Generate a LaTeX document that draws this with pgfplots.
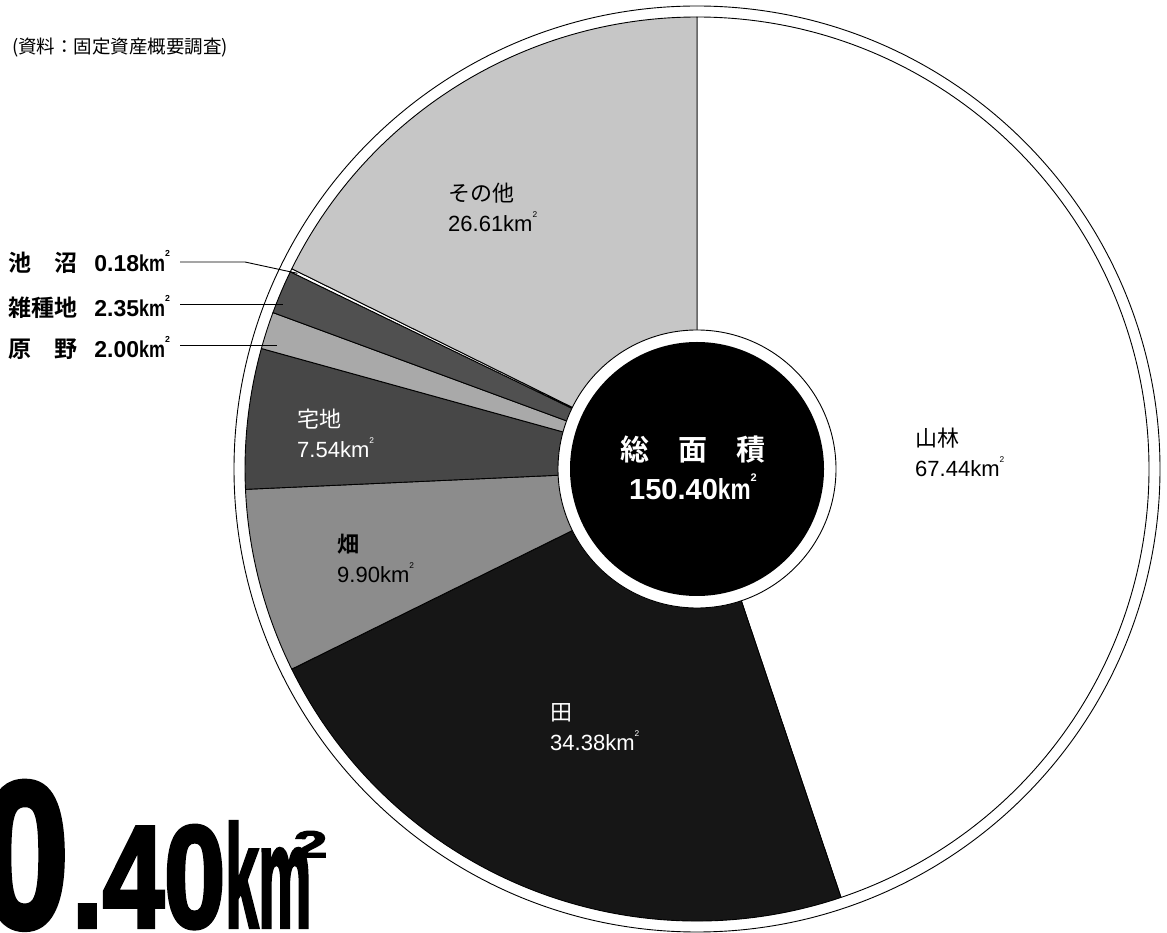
\documentclass[border=0pt]{standalone}
\usepackage{fontspec}
\setmainfont{Liberation Sans}
\newfontfamily\cjk{Noto Sans CJK JP}[BoldFont={Noto Sans CJK JP Bold}]
\newfontfamily\heavy{Liberation Sans Bold}[FakeBold=3]
\usepackage{pgfplots}
\usepackage{pgfplotstable}
\pgfplotsset{compat=1.18}

\definecolor{cSanrin}{gray}{1.0}
\definecolor{cTa}{HTML}{161616}
\definecolor{cHata}{HTML}{8C8C8C}
\definecolor{cTakuchi}{HTML}{474747}
\definecolor{cGenya}{HTML}{A9A9A9}
\definecolor{cZasshu}{HTML}{505050}
\definecolor{cChisho}{gray}{1.0}
\definecolor{cSonota}{HTML}{C6C6C6}

% land use (km^2), clockwise from 12 o'clock
\pgfplotstableread{
key     value fillc
sanrin  67.44 cSanrin
ta      34.38 cTa
hata     9.90 cHata
takuchi  7.54 cTakuchi
genya    2.00 cGenya
zasshu   2.35 cZasshu
chisho   0.18 cChisho
sonota  26.61 cSonota
}\landdata

\newcommand\km{km\raisebox{0.62em}{\scalebox{0.38}{2}}}
\newcommand\kmc{\scalebox{0.78}[1]{km}\raisebox{0.62em}{\scalebox{0.38}{2}}}

\begin{document}
\begin{tikzpicture}
\begin{axis}[x=1pt,y=1pt,xmin=0,xmax=1167,ymin=0,ymax=932,
  hide axis,clip=true,clip mode=global]
\coordinate (SW) at (axis cs:0,0);
\coordinate (NE) at (axis cs:1167,932);

% total
\pgfplotstablegetrowsof{\landdata}
\pgfmathtruncatemacro\nlast{\pgfplotsretval-1}
\def\total{0}
\pgfplotsforeachungrouped \i in {0,...,\nlast}{%
  \pgfplotstablegetelem{\i}{value}\of\landdata
  \pgfmathsetmacro\total{\total+\pgfplotsretval}%
}
% outer ring
\draw[line width=0.9pt] (axis cs:697,463) circle[radius=463pt];
% sectors
\def\startang{90}
\pgfplotsforeachungrouped \i in {0,...,\nlast}{%
  \pgfplotstablegetelem{\i}{value}\of\landdata \let\v\pgfplotsretval
  \pgfplotstablegetelem{\i}{fillc}\of\landdata \let\fc\pgfplotsretval
  \pgfmathsetmacro\frac{\v/\total}%
  \pgfmathsetmacro\endang{\startang-360*\frac}%
  \pgfmathsetmacro\midang{(\startang+\endang)/2}%
  \edef\cmd{\noexpand\filldraw[fill=\fc,draw=black,line width=0.9pt,line join=round]
    (axis cs:697,463) -- ++(\startang:452pt)
    arc[start angle=\startang,end angle=\endang,radius=452pt] -- cycle;}%
  \cmd
  \ifnum\i=6 \global\let\pondang\midang\fi
  \let\startang\endang
}
% centre
\filldraw[fill=white,draw=black,line width=0.9pt] (axis cs:697,463) circle[radius=139pt];
\fill[black] (axis cs:697,463) circle[radius=127pt];

% leader lines
\pgfmathsetmacro\px{697+445*cos(\pondang)}
\pgfmathsetmacro\py{463+445*sin(\pondang)}
\edef\cmd{\noexpand\draw[line width=0.9pt] (axis cs:180,670) -- (axis cs:245,670) -- (axis cs:\px,\py);}
\cmd
\draw[line width=0.9pt] (axis cs:180,628) -- (axis cs:283,628);
\draw[line width=0.9pt] (axis cs:180,587) -- (axis cs:277,587);

% labels
\node[anchor=west,align=left,inner sep=0,font=\fontsize{22}{30}\selectfont] at (axis cs:448,724.5) {{\cjk その他}\\26.61\km};
\node[anchor=west,align=left,inner sep=0,font=\fontsize{22}{30}\selectfont] at (axis cs:915,480) {{\cjk 山林}\\67.44\km};
\node[anchor=west,align=left,inner sep=0,text=white,font=\fontsize{22}{30}\selectfont] at (axis cs:297,499) {{\cjk 宅地}\\7.54\km};
\node[anchor=west,align=left,inner sep=0,font=\fontsize{22}{30}\selectfont] at (axis cs:337,374) {{\cjk\bfseries 畑}\\9.90\km};
\node[anchor=west,align=left,inner sep=0,text=white,font=\fontsize{22}{30}\selectfont] at (axis cs:550,205) {{\cjk 田}\\34.38\km};
\node[align=center,inner sep=0,text=white,font=\bfseries\fontsize{29}{39}\selectfont] at (axis cs:693,464.5) {{\cjk 総\hspace{1em}面\hspace{1em}積}\\150.40\kmc};

\node[anchor=west,inner sep=0,font=\bfseries\fontsize{23}{26}\selectfont] at (axis cs:8,670) {{\cjk 池}\hspace{1em}{\cjk 沼}\hspace{0.75em}0.18\kmc};
\node[anchor=west,inner sep=0,font=\bfseries\fontsize{23}{26}\selectfont] at (axis cs:8,625) {{\cjk 雑種地}\hspace{0.75em}2.35\kmc};
\node[anchor=west,inner sep=0,font=\bfseries\fontsize{23}{26}\selectfont] at (axis cs:8,584) {{\cjk 原}\hspace{1em}{\cjk 野}\hspace{0.75em}2.00\kmc};

\node[anchor=west,inner sep=0,font=\cjk\fontsize{18.5}{21}\selectfont] at (axis cs:12,884) {(資料：固定資産概要調査)};

% big total (its first digits run off the left edge, as in the original)
\node[anchor=base west,inner sep=0,xscale=0.76,font=\heavy\fontsize{145}{145}\selectfont] at (axis cs:72,5) {\llap{\fontsize{208}{208}\selectfont 150\hspace{0.02em}}.40\scalebox{0.54}[1]{km}\hspace{-0.16em}\raisebox{0.48em}{\scalebox{0.55}[0.26]{2}}};
\end{axis}
\pgfresetboundingbox
\path[use as bounding box] (SW) rectangle (NE);
\end{tikzpicture}
\end{document}
